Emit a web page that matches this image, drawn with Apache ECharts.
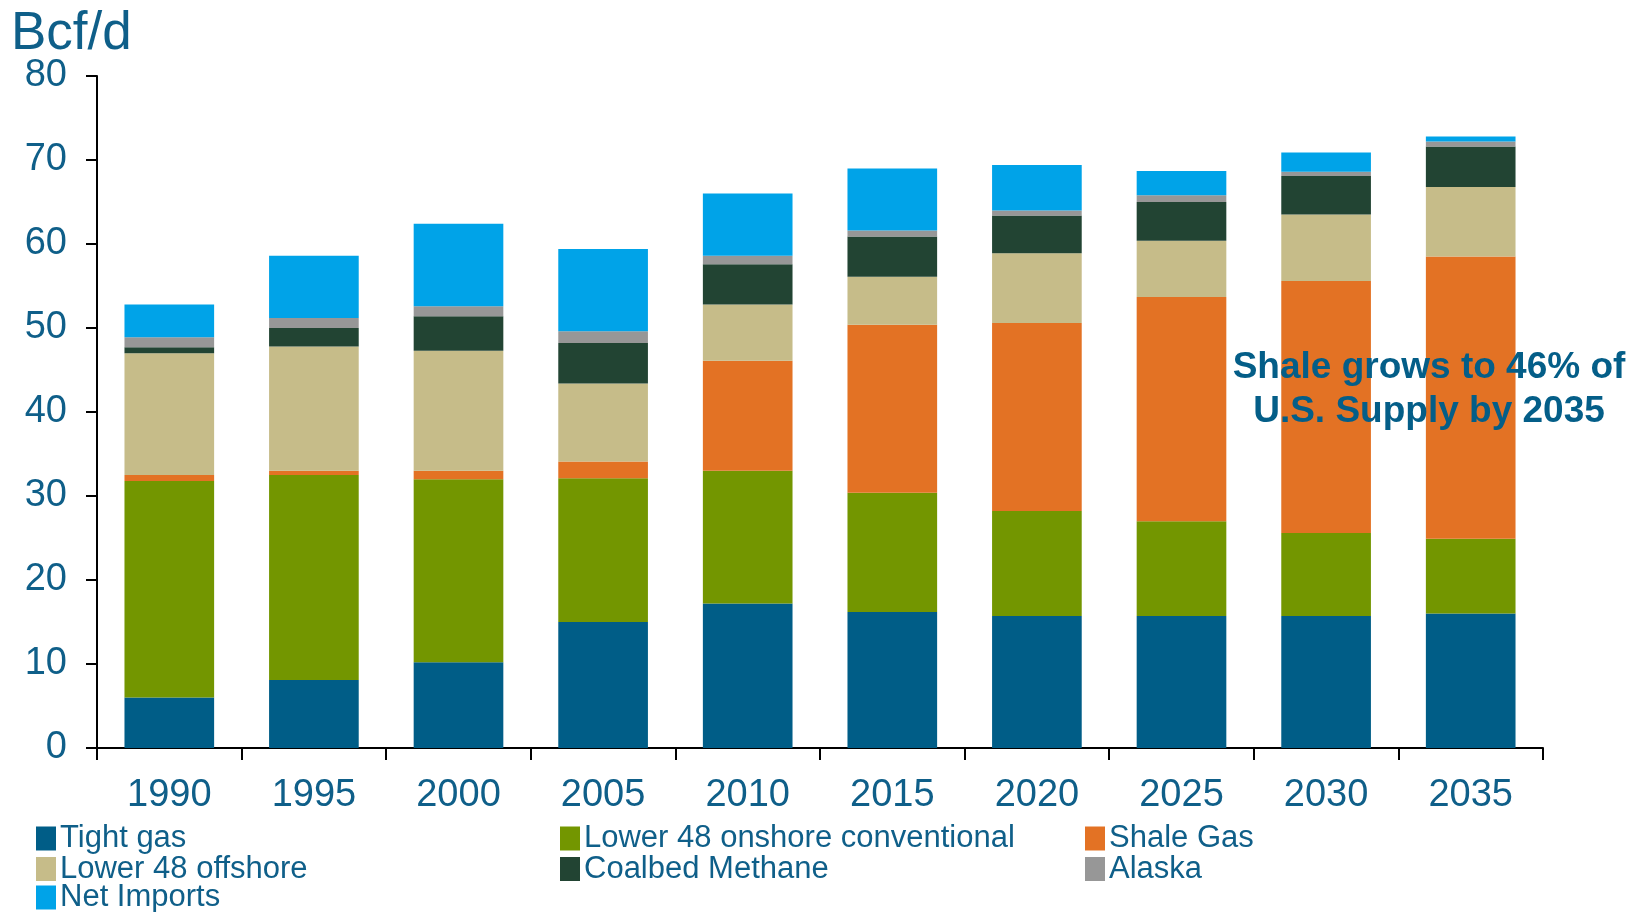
<!DOCTYPE html>
<html>
<head>
<meta charset="utf-8">
<script src="https://cdn.jsdelivr.net/npm/echarts@6/dist/echarts.min.js"></script>
<style>
html,body{margin:0;padding:0;background:#fff;}
#c{width:1649px;height:912px;}
</style>
</head>
<body>
<div id="c"></div>
<script>
const categories = ['1990','1995','2000','2005','2010','2015','2020','2025','2030','2035'];
const tightGas   = [6.0, 8.1, 10.2, 15.0, 17.2, 16.2, 15.7, 15.7, 15.7, 16.0];
const onshoreConv= [25.8, 24.4, 21.8, 17.1, 15.8, 14.2, 12.5, 11.3, 9.9, 8.9];
const shaleGas   = [0.7, 0.5, 1.0, 2.0, 13.1, 20.0, 22.4, 26.7, 30.0, 33.6];
const offshore   = [14.5, 14.8, 14.3, 9.3, 6.7, 5.7, 8.3, 6.7, 7.9, 8.3];
const coalbed    = [0.7, 2.2, 4.1, 4.8, 4.8, 4.8, 4.5, 4.6, 4.6, 4.8];
const alaska     = [1.2, 1.2, 1.2, 1.4, 1.0, 0.7, 0.6, 0.8, 0.5, 0.6];
const netImports = [3.9, 7.4, 9.8, 9.8, 7.4, 7.4, 5.4, 2.9, 2.3, 0.6];
const yTicks = [0, 10, 20, 30, 40, 50, 60, 70, 80];

const textBlue = '#0F5F89';
const font = '"Liberation Sans", Arial, sans-serif';

const seriesDefs = [
  {name:'Tight gas', data:tightGas, color:'#005D87'},
  {name:'Lower 48 onshore conventional', data:onshoreConv, color:'#739600'},
  {name:'Shale Gas', data:shaleGas, color:'#E37224'},
  {name:'Lower 48 offshore', data:offshore, color:'#C6BC89'},
  {name:'Coalbed Methane', data:coalbed, color:'#224433'},
  {name:'Alaska', data:alaska, color:'#979797'},
  {name:'Net Imports', data:netImports, color:'#00A3E8'}
];

// legend layout: [name, column, row]
const legendLayout = [
  ['Tight gas',0,0], ['Lower 48 onshore conventional',1,0], ['Shale Gas',2,0],
  ['Lower 48 offshore',0,1], ['Coalbed Methane',1,1], ['Alaska',2,1],
  ['Net Imports',0,2]
];
const colLeft = [31, 555, 1080];
const rowTop = [818, 848.5, 877];

const chart = echarts.init(document.getElementById('c'), null, {renderer:'canvas'});

const option = {
  backgroundColor:'#fff',
  animation:false,
  textStyle:{fontFamily:font},
  title:{
    text:'Bcf/d', left:11, top:8, padding:0,
    textStyle:{color:textBlue, fontSize:53, fontWeight:'normal', fontFamily:font}
  },
  legend: legendLayout.map(([n,c,r]) => ({
    left:colLeft[c], top:rowTop[r], data:[n],
    orient:'horizontal', itemWidth:20, itemHeight:24,
    icon:'rect', selectedMode:false,
    textStyle:{color:textBlue, fontSize:31, fontFamily:font, lineHeight:28, padding:[0,0,0,-1]}
  })),
  grid:{left:97, right:106, top:76, bottom:164, containLabel:false},
  xAxis:{
    type:'category', data:categories,
    axisLine:{lineStyle:{color:'#000', width:2}},
    axisTick:{show:true, length:12, lineStyle:{color:'#000', width:2}},
    axisLabel:{color:textBlue, fontSize:38, fontFamily:font, margin:29}
  },
  yAxis:{
    type:'value', min:yTicks[0], max:yTicks[yTicks.length-1], interval:10,
    splitLine:{show:false},
    axisLine:{show:true, lineStyle:{color:'#000', width:2}},
    axisTick:{show:true, length:11, lineStyle:{color:'#000', width:2}},
    axisLabel:{color:textBlue, fontSize:38, fontFamily:font, margin:30}
  },
  series: seriesDefs.map(s => ({
    name:s.name, type:'bar', stack:'supply', data:s.data, barWidth:'62%',
    itemStyle:{color:s.color}
  })),
  graphic:[{
    type:'text', x:1429, y:346, z:100,
    style:{
      text:'Shale grows to 46% of\nU.S. Supply by 2035',
      fill:'#045E88', font:'bold 37px "Liberation Sans", Arial, sans-serif',
      align:'center', verticalAlign:'top', lineHeight:44
    }
  }]
};
chart.setOption(option);
</script>
</body>
</html>
